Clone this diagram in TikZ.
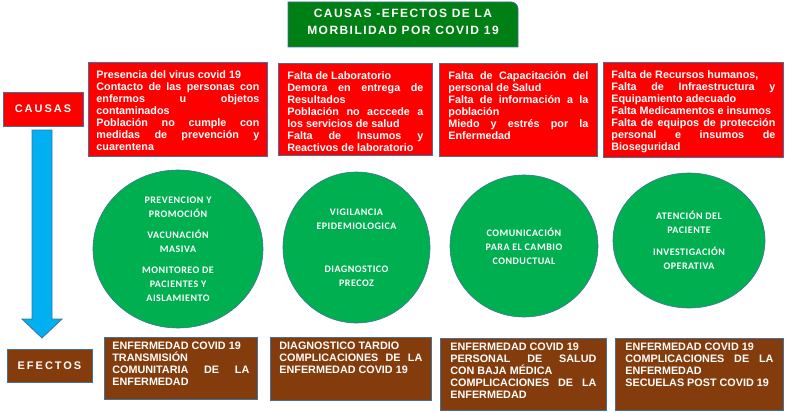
\documentclass[tikz,border=0pt]{standalone}
\usepackage{fontspec}
\setmainfont{Liberation Sans}
\newfontfamily\titlefont[LetterSpace=12]{Liberation Sans}
\newfontfamily\labelfont[LetterSpace=18]{Liberation Sans}
\newfontfamily\circlefont[LetterSpace=5]{Carlito}
\usetikzlibrary{shapes.geometric}

\definecolor{titlegreen}{RGB}{0,128,20}
\definecolor{causared}{RGB}{255,0,0}
\definecolor{efectobrown}{RGB}{132,60,12}
\definecolor{acciongreen}{RGB}{0,176,80}
\definecolor{arrowblue}{RGB}{0,176,240}
\definecolor{edgeblue}{RGB}{65,113,156}

\newcommand{\boxtext}[3]{\parbox[c][#2pt][t]{#1pt}{\tolerance=10000\hyphenpenalty=10000\fontsize{10.8}{12}\selectfont #3}}

\begin{document}
\begin{tikzpicture}[x=1pt,y=-1pt,
    causa/.style={rectangle, draw=edgeblue, line width=0.8pt, fill=causared, text=white, font=\bfseries, anchor=north west, inner xsep=8pt, inner ysep=8pt},
    efecto/.style={rectangle, draw=edgeblue, line width=0.8pt, fill=efectobrown, text=white, font=\bfseries, anchor=north west, inner xsep=8pt, inner ysep=5pt},
    accion/.style={ellipse, draw=edgeblue, line width=0.6pt, fill=acciongreen, text=white, inner sep=0pt, align=center, font=\bfseries\circlefont\fontsize{10}{14}\selectfont}]
        \useasboundingbox (0,0) rectangle (787,412);

        % title
        \filldraw[fill=titlegreen, draw=edgeblue, line width=0.8pt] (288,47) -- (288,2) -- (511,2) arc[start angle=-90, end angle=0, radius=7] -- (518,47) -- cycle;
        \node[text=white, align=center, font=\titlefont\bfseries\fontsize{12}{17}\selectfont] (title) at (403,22) {CAUSAS -EFECTOS DE LA\\MORBILIDAD POR COVID 19};

        % labels and arrow
        \node[rectangle, draw=edgeblue, line width=0.8pt, fill=causared, text=white, minimum width=80pt, minimum height=34pt, font=\labelfont\bfseries\fontsize{11}{13}\selectfont] (causas) at (43,109) {CAUSAS};
        \node[rectangle, draw=edgeblue, line width=0.8pt, fill=efectobrown, text=white, minimum width=85pt, minimum height=33pt, font=\labelfont\bfseries\fontsize{11}{13}\selectfont] (efectos) at (49.5,365.5) {EFECTOS};
        \filldraw[fill=arrowblue, draw=edgeblue, line width=0.8pt] (32,130) -- (52,130) -- (52,319) -- (62,319) -- (42,338) -- (22,319) -- (32,319) -- cycle;

        % causas
        \node[causa] (c1) at (88,62) {\boxtext{163}{78}{Presencia del virus covid 19\par Contacto de las personas con\linebreak enfermos u objetos\linebreak contaminados\par Población no cumple con\linebreak medidas de prevención y\linebreak cuarentena}};
        \node[causa, inner xsep=9pt] (c2) at (278,63) {\boxtext{136}{76}{Falta de Laboratorio\par Demora en entrega de\linebreak Resultados\par Población no acccede a\linebreak los servicios de salud\par Falta de Insumos y\linebreak Reactivos de laboratorio}};
        \node[causa, inner xsep=9pt] (c3) at (439,63) {\boxtext{140}{77}{Falta de Capacitación del\linebreak personal de Salud\par Falta de información a la\linebreak población\par Miedo y estrés por la\linebreak Enfermedad}};
        \node[causa] (c4) at (603,62) {\boxtext{164}{79}{Falta de Recursos humanos,\par Falta de Infraestructura y\linebreak Equipamiento adecuado\par Falta Medicamentos e insumos\par Falta de equipos de protección\linebreak personal e insumos de\linebreak Bioseguridad}};

        % acciones
        \node[accion, minimum width=170pt, minimum height=158pt] (a1) at (178,249) {PREVENCION Y\\PROMOCIÓN\\[7pt]VACUNACIÓN\\MASIVA\\[7pt]MONITOREO DE\\PACIENTES Y\\AISLAMIENTO};
        \node[accion, minimum width=147pt, minimum height=151pt] (a2) at (356.5,247.5) {VIGILANCIA\\EPIDEMIOLOGICA\\[29pt]DIAGNOSTICO\\PRECOZ};
        \node[accion, minimum width=148pt, minimum height=142pt] (a3) at (524,246) {COMUNICACIÓN\\PARA EL CAMBIO\\CONDUCTUAL};
        \node[accion, minimum width=152pt, minimum height=135pt] (a4) at (689,240.5) {ATENCIÓN DEL\\PACIENTE\\[8pt]INVESTIGACIÓN\\OPERATIVA};

        % efectos
        \node[efecto] (e1) at (104,337) {\boxtext{137}{52}{ENFERMEDAD COVID 19\par TRANSMISIÓN\linebreak COMUNITARIA DE LA\linebreak ENFERMEDAD}};
        \node[efecto, inner xsep=9pt] (e2) at (270,337) {\boxtext{143}{53}{DIAGNOSTICO TARDIO\par COMPLICACIONES DE LA\linebreak ENFERMEDAD COVID 19}};
        \node[efecto, inner xsep=10pt] (e3) at (440,338) {\boxtext{146}{62}{ENFERMEDAD COVID 19\par PERSONAL DE SALUD\linebreak CON BAJA MÉDICA\par COMPLICACIONES DE LA\linebreak ENFERMEDAD}};
        \node[efecto, inner xsep=10pt] (e4) at (615,338) {\boxtext{148}{62}{ENFERMEDAD COVID 19\par COMPLICACIONES DE LA\linebreak ENFERMEDAD\par SECUELAS POST COVID 19}};

    \end{tikzpicture}
\end{document}
